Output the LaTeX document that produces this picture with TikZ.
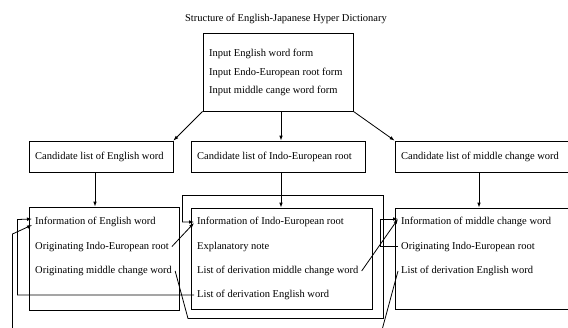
\documentclass[tikz,border=0pt]{standalone}
\usepackage{fontspec}
\setmainfont{Liberation Serif}
\usetikzlibrary{arrows.meta,calc}

\tikzset{
  box/.style={draw, line width=0.8pt, inner sep=0pt},
  entry/.style={anchor=west, inner xsep=3pt, inner ysep=1pt, font=\fontsize{10.5}{12}\selectfont},
  link/.style={line width=0.8pt},
  arrowlink/.style={link, -{Latex[length=5pt,width=3.6pt]}},
}

\begin{document}
\begin{tikzpicture}[x=1pt,y=-1pt]
    \clip (0,0) rectangle (568,327);

    % Title
    \node[entry, anchor=center] (title) at (286,19) {Structure of English-Japanese Hyper Dictionary};

    % Input box
    \node[box, minimum width=150pt, minimum height=78pt] (inbox) at (278,72) {};
    \node[entry] (in1) at (206,54) {Input English word form};
    \node[entry] (in2) at (206,72.5) {Input Endo-European root form};
    \node[entry] (in3) at (206,91) {Input middle cange word form};

    % Candidate lists
    \node[box, minimum width=144pt, minimum height=31pt] (candEng) at (101,156.5) {};
    \node[box, minimum width=174pt, minimum height=31pt] (candRoot) at (278,156.5) {};
    \node[box, minimum width=225pt, minimum height=31pt] (candMid) at (507.5,156.5) {};
    \node[entry] at (32,157) {Candidate list of English word};
    \node[entry] at (194,157) {Candidate list of Indo-European root};
    \node[entry] at (398,157) {Candidate list of middle change word};

    % Information boxes
    \node[box, minimum width=150pt, minimum height=103pt] (infoEng) at (104,258.5) {};
    \node[box, minimum width=181pt, minimum height=101pt] (infoRoot) at (281.5,258.5) {};
    \node[box, minimum width=225pt, minimum height=101pt] (infoMid) at (507.5,258.5) {};

    \node[entry] (eng1) at (32,222) {Information of English word};
    \node[entry] (eng2) at (32,246.5) {Originating Indo-European root};
    \node[entry] (eng3) at (32,271) {Originating middle change word};

    \node[entry] (root1) at (194,222) {Information of Indo-European root};
    \node[entry] (root2) at (194,246.5) {Explanatory note};
    \node[entry] (root3) at (194,271) {List of derivation middle change word};
    \node[entry] (root4) at (194,295) {List of derivation English word};

    \node[entry] (mid1) at (398,222) {Information of middle change word};
    \node[entry] (mid2) at (398,246.5) {Originating Indo-European root};
    \node[entry] (mid3) at (398,271) {List of derivation English word};

    % Loose ends below the picture
    \coordinate (freeA) at (12.5,330);
    \coordinate (freeB) at (382,330);

    % Input to candidates
    \draw[arrowlink] (inbox.south west) -- (candEng.north east);
    \draw[arrowlink] ([xshift=3pt]inbox.south) -- ([xshift=3pt]candRoot.north);
    \draw[arrowlink] (inbox.south east) -- (candMid.north west);

    % Candidates to information
    \draw[arrowlink] ([xshift=-6pt]candEng.south) coordinate (e0) -- (e0 |- infoEng.north);
    \draw[arrowlink] ([xshift=3pt]candRoot.south) coordinate (r0) -- (r0 |- infoRoot.north);
    \draw[arrowlink] ([xshift=-28.5pt]candMid.south) coordinate (m0) -- (m0 |- infoMid.north);

    % Cross links
    \draw[arrowlink] (root4.west) -- (17.5,295) -- (17.5,219.5) -- ([yshift=3pt]eng1.west);
    \draw[arrowlink] (freeA) -- (12.5,234) -- ([yshift=-3pt]eng1.west);
    \draw[arrowlink] (eng2.east) -- ([yshift=-1pt]root1.west);
    \draw[arrowlink] (eng3.east) -- (188,318.5) -- (383.5,318.5) -- (383.5,195.5) -- (182.5,195.5) |- (root1.west);
    \draw[arrowlink] (root3.east) -- ([yshift=3pt]mid1.west);
    \draw[arrowlink] (mid2.west) -| (380.5,219) -- ([yshift=3pt]mid1.west);
    \draw[link] (freeB) -- (mid3.west);
\end{tikzpicture}
\end{document}
